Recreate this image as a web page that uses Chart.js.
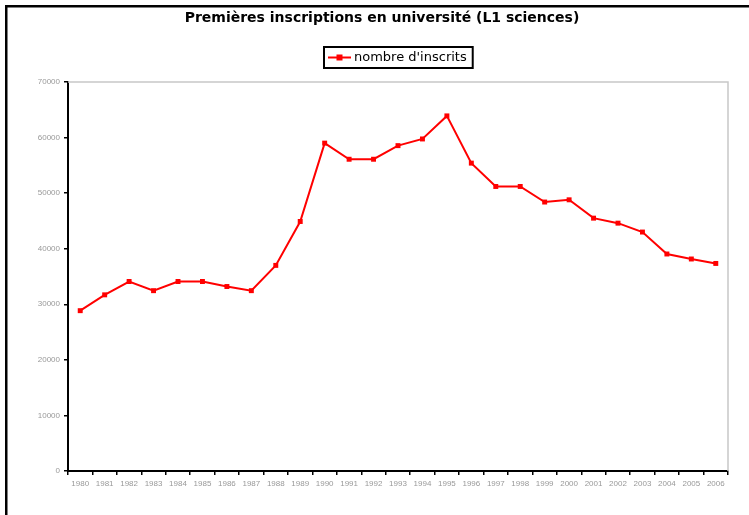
<!DOCTYPE html>
<html>
<head>
<meta charset="utf-8">
<script src="https://cdn.jsdelivr.net/npm/chart.js@4/dist/chart.umd.min.js"></script>
<style>
html,body{margin:0;padding:0;background:#fff;}
#wrap{position:relative;width:749px;height:515px;}
canvas{display:block;}
</style>
</head>
<body>
<div id="wrap"><canvas id="c" width="749" height="515"></canvas></div>
<script>
const years = ['1980','1981','1982','1983','1984','1985','1986','1987','1988','1989','1990','1991','1992','1993','1994','1995','1996','1997','1998','1999','2000','2001','2002','2003','2004','2005','2006'];
const inscrits = [28850,31700,34100,32450,34100,34100,33200,32450,37000,44900,59000,56100,56100,58550,59750,63900,55400,51200,51200,48400,48800,45500,44600,43000,39050,38150,37350];
const yTicks = [0,10000,20000,30000,40000,50000,60000,70000];
const titleText = 'Premières inscriptions en université (L1 sciences)';
const seriesName = "nombre d'inscrits";

const frame = {
  id:'frame',
  beforeDraw(chart){
    const ctx = chart.ctx;
    ctx.save();
    ctx.fillStyle = '#000';
    ctx.fillRect(5,5,749,2.5);
    ctx.fillRect(5,5,2.5,515);
    ctx.restore();
  },
  afterDatasetsDraw(chart){
    const a = chart.chartArea, ctx = chart.ctx;
    ctx.save();
    ctx.strokeStyle = '#c8c8c8';
    ctx.lineWidth = 1.5;
    ctx.beginPath();
    ctx.moveTo(a.left, a.top);
    ctx.lineTo(a.right, a.top);
    ctx.lineTo(a.right, a.bottom);
    ctx.stroke();
    ctx.restore();
  },
  afterDraw(chart){
    // legend box (series name read from the dataset)
    const ds = chart.data.datasets[0];
    const ctx = chart.ctx;
    ctx.save();
    ctx.font = '13px "DejaVu Sans", sans-serif';
    const tw = ctx.measureText(ds.label).width;
    const bx = 324, by = 47, bh = 21;
    const bw = 30 + tw + 6;
    ctx.fillStyle = '#fff';
    ctx.fillRect(bx, by, bw, bh);
    ctx.strokeStyle = '#000';
    ctx.lineWidth = 2;
    ctx.strokeRect(bx, by, bw, bh);
    const cy = by + bh/2;
    ctx.fillStyle = ds.borderColor;
    ctx.fillRect(bx + 4, cy - 1, 23, 2);
    ctx.fillRect(bx + 12.5, cy - 3, 6, 6);
    ctx.fillStyle = '#000';
    ctx.textBaseline = 'middle';
    ctx.textAlign = 'left';
    ctx.fillText(ds.label, bx + 30, cy + 0.5);
    ctx.restore();
  }
};

new Chart(document.getElementById('c'), {
  type:'line',
  data:{
    labels: years,
    datasets:[{
      label: seriesName,
      data: inscrits,
      borderColor:'#ff0000',
      backgroundColor:'#ff0000',
      borderWidth:2,
      pointStyle:'rect',
      pointRadius:3.5,
      pointBorderWidth:0,
      tension:0
    }]
  },
  options:{
    responsive:false,
    animation:false,
    devicePixelRatio:1,
    layout:{padding:{left:36,right:21,top:0,bottom:0}},
    plugins:{
      title:{
        display:true,
        text:titleText,
        color:'#000',
        font:{family:'DejaVu Sans, sans-serif',size:14,weight:'bold'},
        padding:{top:10,bottom:55.2}
      },
      legend:{display:false},
      tooltip:{enabled:false}
    },
    scales:{
      x:{
        offset:true,
        grid:{display:true,drawOnChartArea:false,offset:true,color:'#000',tickLength:4,lineWidth:1.5},
        border:{display:true,color:'#000',width:2},
        ticks:{color:'#999',font:{family:'Liberation Sans, Arial, sans-serif',size:8},maxRotation:0,minRotation:0,autoSkip:false,padding:4},
        afterFit(s){ s.height = 44; }
      },
      y:{
        min:0,max:70000,
        afterBuildTicks(s){ s.ticks = yTicks.map(v=>({value:v})); },
        grid:{display:true,drawOnChartArea:false,color:'#000',tickLength:4,lineWidth:1.5},
        border:{display:true,color:'#000',width:2},
        ticks:{color:'#999',font:{family:'Liberation Sans, Arial, sans-serif',size:8},padding:4,callback:v=>String(v)},
        afterFit(s){ s.width = 32; }
      }
    }
  },
  plugins:[frame]
});
</script>
</body>
</html>
